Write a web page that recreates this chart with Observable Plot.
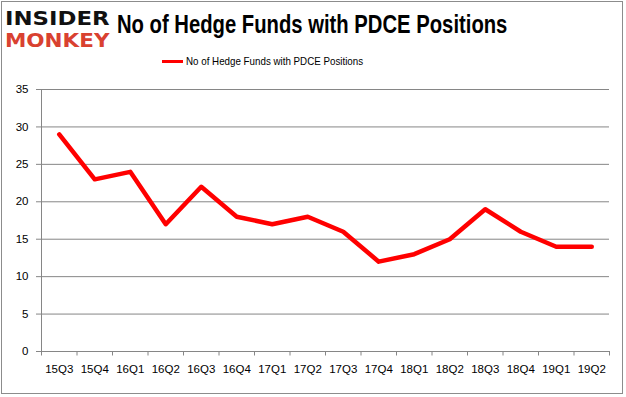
<!DOCTYPE html>
<html>
<head>
<meta charset="utf-8">
<script src="https://cdn.jsdelivr.net/npm/d3@7"></script>
<script src="https://cdn.jsdelivr.net/npm/@observablehq/plot@0.6"></script>
<style>
  html, body { margin: 0; padding: 0; background: #fff; }
  #wrap { position: relative; width: 626px; height: 397px; overflow: hidden; background: #fff; }
  #frame { position: absolute; left: 1px; top: 1px; width: 622px; height: 393px; border: 1px solid #8c8c8c; box-sizing: border-box; pointer-events: none; }
  .logo { position: absolute; left: 5px; font-family: "DejaVu Sans", sans-serif; font-weight: 900; font-size: 19px; line-height: 19px; height: 19px; white-space: nowrap; transform-origin: left top; }
  #logoA { top: 9px; color: #111; transform: scaleX(1.2); }
  #logoB { top: 31px; color: #d94130; transform: scaleX(1.13); }
  #title { position: absolute; left: 117px; top: 10px; font-family: "Liberation Sans", Arial, sans-serif; font-weight: bold; font-size: 25px; color: #000; white-space: nowrap; transform: scaleX(0.81); transform-origin: left top; }
  #legend { position: absolute; left: 162px; top: 55px; font-family: "Liberation Sans", Arial, sans-serif; font-size: 11.5px; color: #000; white-space: nowrap; display: flex; align-items: center; }
  #legend .sw { width: 21px; height: 3px; background: #ff0000; margin-right: 3px; }
  #legend span { display: inline-block; transform: scaleX(0.85); transform-origin: left center; }
  #chart { position: absolute; left: 0; top: 80px; }
</style>
</head>
<body>
<div id="wrap">
  <div class="logo" id="logoA">INSIDER</div>
  <div class="logo" id="logoB">MONKEY</div>
  <div id="title">No of Hedge Funds with PDCE Positions</div>
  <div id="legend"><div class="sw"></div><span>No of Hedge Funds with PDCE Positions</span></div>
  <div id="chart"></div>
  <div id="frame"></div>
</div>
<script>
const quarters = ["15Q3","15Q4","16Q1","16Q2","16Q3","16Q4","17Q1","17Q2","17Q3","17Q4","18Q1","18Q2","18Q3","18Q4","19Q1","19Q2"];
const funds = [29,23,24,17,22,18,17,18,16,12,13,15,19,16,14,14];
const yTicks = [0,5,10,15,20,25,30,35];

const data = quarters.map((q, i) => ({i, q, v: funds[i]}));
const bounds = d3.range(quarters.length + 1).map(i => i - 0.5);

const plot = Plot.plot({
  width: 626,
  height: 317,
  marginLeft: 41,
  marginRight: 17,
  marginTop: 9,
  marginBottom: 46,
  style: {fontFamily: "Liberation Sans, Arial, sans-serif", fontSize: "11.5px", color: "#000", background: "transparent"},
  x: {type: "linear", domain: [-0.5, quarters.length - 0.5]},
  y: {domain: [0, 35]},
  marks: [
    Plot.gridY(yTicks, {stroke: "#868686", strokeOpacity: 1, x1: -0.5, x2: quarters.length - 0.5}),
    Plot.axisY({ticks: yTicks, tickSize: 5, tickPadding: 8, stroke: "#868686", fill: "#000", label: null}),
    Plot.ruleX([-0.5], {y1: 0, y2: 35, stroke: "#868686"}),
    Plot.ruleX(bounds, {x: d => d, y1: 0, y2: -0.6, stroke: "#868686"}),
    Plot.axisX(d3.range(quarters.length), {tickSize: 0, tickPadding: 13, tickFormat: i => quarters[i], fill: "#000", label: null}),
    Plot.line(data, {x: "i", y: "v", stroke: "#ff0000", strokeWidth: 4.5, strokeLinejoin: "round", strokeLinecap: "round"})
  ]
});
document.getElementById("chart").appendChild(plot);
</script>
</body>
</html>
